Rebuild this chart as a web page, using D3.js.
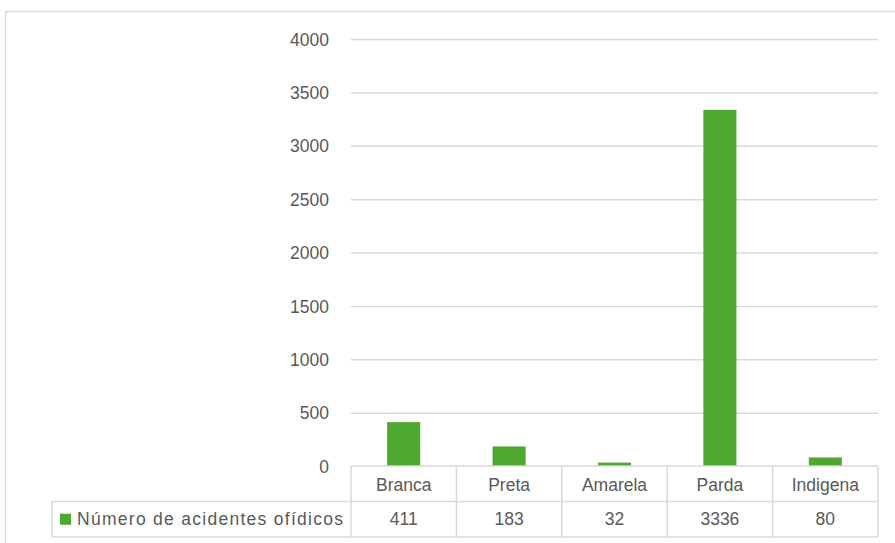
<!DOCTYPE html>
<html>
<head>
<meta charset="utf-8">
<script src="https://cdn.jsdelivr.net/npm/d3@7"></script>
<style>
  html, body { margin: 0; padding: 0; background: #fff; }
  svg { display: block; }
  text { font-family: "Liberation Sans", Arial, sans-serif; fill: #595959; }
</style>
</head>
<body>
<svg id="chart" width="895" height="543"></svg>
<script>
// Snakebite accidents by race/colour
const categories = ["Branca", "Preta", "Amarela", "Parda", "Indigena"];
const values = [411, 183, 32, 3336, 80];
const seriesName = "Número de acidentes ofídicos";
const yTicks = [0, 500, 1000, 1500, 2000, 2500, 3000, 3500, 4000];

const svg = d3.select("#chart");
const W = 895, H = 543;
const fontSize = "17.5px";

const plot = { left: 351, right: 878, top: 39, bottom: 466 };
const rowH = 35.5;
const legendLeft = 52;

const green = "#4ea72e";
const gridColor = "#d9d9d9";

// chart frame
svg.append("rect")
  .attr("x", 5.5).attr("y", 11.5)
  .attr("width", W + 10).attr("height", H)
  .attr("fill", "none").attr("stroke", gridColor).attr("stroke-width", 1.5);

const x = d3.scaleBand().domain(categories).range([plot.left, plot.right]).paddingInner(0).paddingOuter(0);
const y = d3.scaleLinear().domain([0, 4000]).range([plot.bottom, plot.top]);

// gridlines + value axis
const yAxis = d3.axisLeft(y).tickValues(yTicks).tickSize(0).tickPadding(0).tickFormat(d3.format("d"));
const gAxis = svg.append("g").attr("transform", `translate(${plot.left},0)`).call(yAxis);
gAxis.select(".domain").remove();
gAxis.selectAll("text")
  .attr("x", -22).attr("dy", "0.35em")
  .style("font-size", fontSize).style("fill", "#595959").style("font-family", "Liberation Sans, Arial, sans-serif");
gAxis.selectAll(".tick").filter(d => d > 0).append("line")
  .attr("x1", 0).attr("x2", plot.right - plot.left)
  .attr("stroke", gridColor).attr("stroke-width", 1.5);

// bars
const barW = x.bandwidth() / 3.19;
svg.append("g").selectAll("rect").data(values).join("rect")
  .attr("x", (d, i) => x(categories[i]) + (x.bandwidth() - barW) / 2)
  .attr("y", d => y(d))
  .attr("width", barW)
  .attr("height", d => y(0) - y(d))
  .attr("fill", green);

// data table
const table = svg.append("g").attr("stroke", gridColor).attr("stroke-width", 1.5).attr("fill", "none");
const row1 = plot.bottom, row2 = plot.bottom + rowH, row3 = plot.bottom + 2 * rowH;
table.append("line").attr("x1", plot.left).attr("x2", plot.right).attr("y1", row1).attr("y2", row1);
table.append("line").attr("x1", legendLeft).attr("x2", plot.right).attr("y1", row2).attr("y2", row2);
table.append("line").attr("x1", legendLeft).attr("x2", plot.right).attr("y1", row3).attr("y2", row3);
table.append("line").attr("x1", legendLeft).attr("x2", legendLeft).attr("y1", row2).attr("y2", row3);
categories.forEach(c => {
  table.append("line").attr("x1", x(c)).attr("x2", x(c)).attr("y1", row1).attr("y2", row3);
});
table.append("line").attr("x1", plot.right).attr("x2", plot.right).attr("y1", row1).attr("y2", row3);

svg.append("g").selectAll("text").data(categories).join("text")
  .attr("x", d => x(d) + x.bandwidth() / 2)
  .attr("y", row1 + rowH / 2 + 1)
  .attr("dy", "0.35em")
  .attr("text-anchor", "middle")
  .style("font-size", fontSize)
  .text(d => d);

svg.append("g").selectAll("text").data(values).join("text")
  .attr("x", (d, i) => x(categories[i]) + x.bandwidth() / 2)
  .attr("y", row2 + rowH / 2)
  .attr("dy", "0.35em")
  .attr("text-anchor", "middle")
  .style("font-size", fontSize)
  .text(d => d);

// legend key inside the table
svg.append("rect")
  .attr("x", 60).attr("y", row2 + rowH / 2 - 5.5)
  .attr("width", 11).attr("height", 11)
  .attr("fill", green);
svg.append("text")
  .attr("x", 77).attr("y", row2 + rowH / 2)
  .attr("dy", "0.35em")
  .style("font-size", fontSize)
  .attr("textLength", 266)
  .attr("lengthAdjust", "spacing")
  .text(seriesName);
</script>
</body>
</html>
